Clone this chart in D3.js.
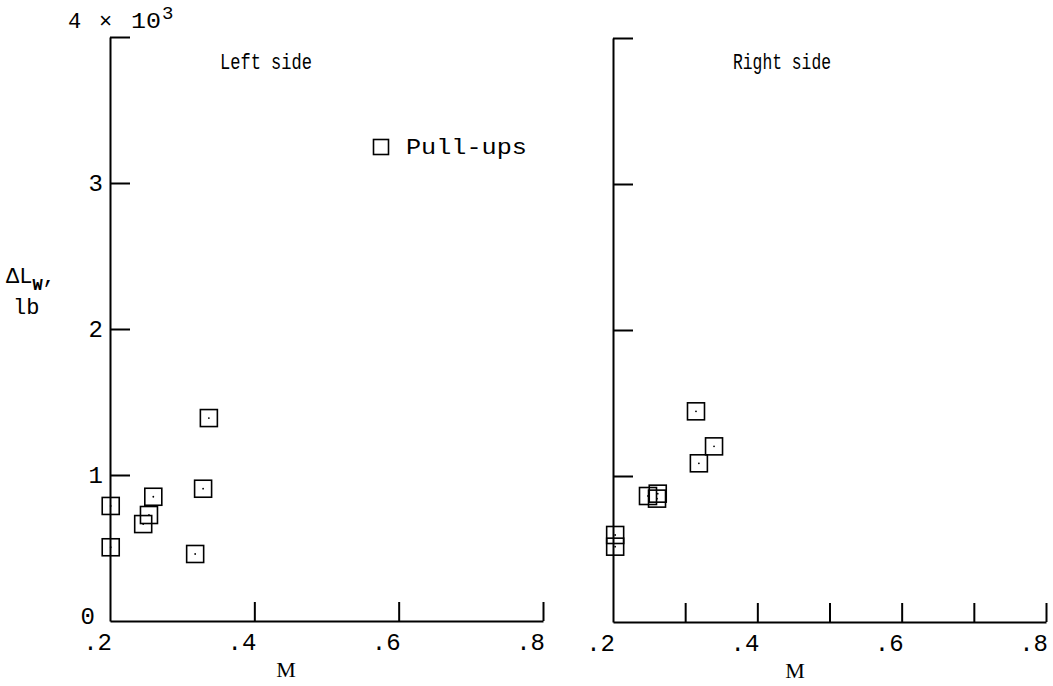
<!DOCTYPE html>
<html>
<head>
<meta charset="utf-8">
<script src="https://cdn.jsdelivr.net/npm/d3@7"></script>
<style>
  html, body { margin: 0; padding: 0; background: #fff; }
  svg { display: block; }
  text { font-family: "Liberation Mono", "Courier New", monospace; fill: #000; }
</style>
</head>
<body>
<svg id="chart" width="1053" height="686"></svg>
<script>
// Wing load increment versus Mach number, pull-up manoeuvres
const leftMach  = [0.201, 0.201, 0.246, 0.254, 0.260, 0.318, 0.329, 0.337];
const leftLoad  = [788, 505, 664, 726, 851, 459, 906, 1390];
const rightMach = [0.203, 0.203, 0.2485, 0.261, 0.262, 0.315, 0.319, 0.340];
const rightLoad = [596, 516, 863, 845, 879, 1443, 1087, 1203];

const xTickLabels = [".2", ".4", ".6", ".8"];
const xTickLabelValues = [0.2, 0.4, 0.6, 0.8];
const yTickLabels = ["0", "1", "2", "3"];
const yTickLabelValues = [0, 1000, 2000, 3000];
const panelTitles = ["Left side", "Right side"];

const svg = d3.select("#chart");

const panels = [
  { title: panelTitles[0], mach: leftMach, load: leftLoad,
    x: d3.scaleLinear().domain([0.2, 0.8]).range([110, 543]),
    y: d3.scaleLinear().domain([0, 4000]).range([621, 37]),
    xTicks: [0.4, 0.6, 0.8], labelY: true, titleX: 266, titleW: 92, mX: 286 },
  { title: panelTitles[1], mach: rightMach, load: rightLoad,
    x: d3.scaleLinear().domain([0.2, 0.8]).range([613, 1046]),
    y: d3.scaleLinear().domain([0, 4000]).range([622, 38]),
    xTicks: [0.3, 0.4, 0.5, 0.6, 0.7, 0.8], labelY: false, titleX: 782, titleW: 98, mX: 795 }
];

panels.forEach(p => {
  const g = svg.append("g");
  const x0 = p.x(0.2), y0 = p.y(0);

  // x axis with inward ticks
  const xAxis = d3.axisBottom(p.x).tickValues(p.xTicks).tickSize(-19).tickSizeOuter(0).tickFormat("");
  g.append("g").attr("transform", `translate(0,${y0})`).call(xAxis)
    .call(a => a.select(".domain").attr("stroke", "#000").attr("stroke-width", 2))
    .call(a => a.selectAll(".tick line").attr("stroke", "#000").attr("stroke-width", 2));

  // y axis with inward ticks, the top closed by a short horizontal stroke
  const yAxis = d3.axisLeft(p.y).tickValues([1000, 2000, 3000, 4000]).tickSize(-20).tickSizeOuter(0).tickFormat("");
  g.append("g").attr("transform", `translate(${x0},0)`).call(yAxis)
    .call(a => a.select(".domain").attr("stroke", "#000").attr("stroke-width", 2))
    .call(a => a.selectAll(".tick line").attr("stroke", "#000").attr("stroke-width", 2));

  // x tick labels
  g.selectAll(".xl").data(xTickLabelValues).join("text")
    .attr("x", d => p.x(d) + 2)
    .attr("y", y0 + 29)
    .attr("text-anchor", "end")
    .attr("font-size", 24)
    .text((d, i) => xTickLabels[i]);

  // x axis title
  g.append("text").attr("x", p.mX).attr("y", y0 + 56)
    .attr("text-anchor", "middle").attr("font-size", 22)
    .style("font-family", "'Liberation Serif', serif").text("M");

  // panel title
  g.append("text").attr("x", p.titleX).attr("y", 69)
    .attr("text-anchor", "middle").attr("font-size", 22)
    .attr("textLength", p.titleW).attr("lengthAdjust", "spacingAndGlyphs")
    .text(p.title);

  // data symbols: open squares with a centre dot
  const s = 17;
  const pts = g.selectAll(".pt").data(p.mach.map((m, i) => [m, p.load[i]])).join("g")
    .attr("transform", d => `translate(${p.x(d[0])},${p.y(d[1])})`);
  pts.append("rect").attr("x", -s / 2).attr("y", -s / 2).attr("width", s).attr("height", s)
    .attr("fill", "none").attr("stroke", "#000").attr("stroke-width", 1.6);
  pts.append("circle").attr("r", 0.9).attr("fill", "#000");

  if (p.labelY) {
    g.selectAll(".yl").data(yTickLabelValues).join("text")
      .attr("x", d => d === 0 ? 95 : 103)
      .attr("y", d => d === 0 ? p.y(d) + 3 : p.y(d) + 8)
      .attr("text-anchor", "end")
      .attr("font-size", 24)
      .text((d, i) => yTickLabels[i]);

    // top label with multiplier
    g.append("text").attr("x", 68).attr("y", 28).attr("font-size", 22).text("4");
    g.append("text").attr("x", 99).attr("y", 28).attr("font-size", 22).text("×");
    g.append("text").attr("x", 131).attr("y", 28).attr("font-size", 22)
      .attr("textLength", 30).attr("lengthAdjust", "spacingAndGlyphs").text("10");
    g.append("text").attr("x", 162).attr("y", 19).attr("font-size", 19).text("3");

    // y axis title
    const yt = g.append("text").attr("x", 6).attr("y", 283).attr("font-size", 22);
    yt.append("tspan").text("ΔL");
    yt.append("tspan").attr("dy", 7).attr("font-size", 17).attr("font-weight", "bold").text("W");
    yt.append("tspan").attr("dy", -7).text(",");
    g.append("text").attr("x", 13).attr("y", 314).attr("font-size", 22).text("lb");

    // legend
    const lx = 381, ly = 147;
    g.append("rect").attr("x", lx - 7.5).attr("y", ly - 7.5).attr("width", 15).attr("height", 15)
      .attr("fill", "none").attr("stroke", "#000").attr("stroke-width", 1.6);
    g.append("text").attr("x", 406).attr("y", ly + 7).attr("font-size", 22)
      .attr("textLength", 121).attr("lengthAdjust", "spacingAndGlyphs").text("Pull-ups");
  }
});
</script>
</body>
</html>
